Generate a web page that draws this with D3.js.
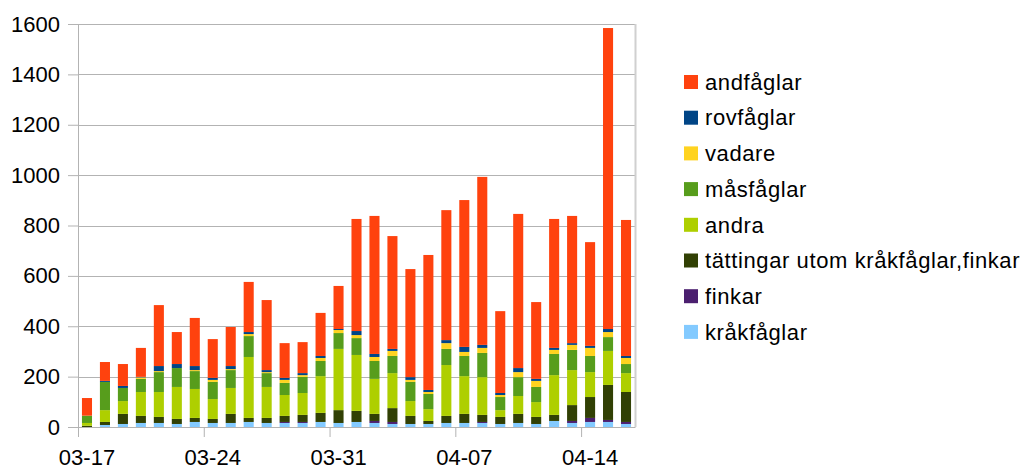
<!DOCTYPE html>
<html>
<head>
<meta charset="utf-8">
<script src="https://cdn.jsdelivr.net/npm/d3@7"></script>
<style>
  body { margin: 0; background: #fff; }
  text { font-family: "Liberation Sans", Arial, sans-serif; fill: #000; }
</style>
</head>
<body>
<svg id="chart" width="1025" height="469"></svg>
<script>
// days on the x axis
const days = ["03-17","03-18","03-19","03-20","03-21","03-22","03-23","03-24","03-25","03-26",
  "03-27","03-28","03-29","03-30","03-31","04-01","04-02","04-03","04-04","04-05","04-06",
  "04-07","04-08","04-09","04-10","04-11","04-12","04-13","04-14","04-15","04-16"];
const xTickDays = ["03-17","03-24","03-31","04-07","04-14"];
const yTicks = [0,200,400,600,800,1000,1200,1400,1600];

// series, bottom of the stack first
const krakfaglar = [0,8,12,16,16,12,20,16,16,20,16,16,16,20,16,20,16,12,12,12,16,16,16,12,16,12,24,16,20,20,12];
const finkar     = [0,0,0,0,0,0,0,0,0,0,0,4,4,0,0,0,8,8,0,0,0,0,4,0,0,0,0,8,16,8,8];
const tattingar  = [5,12,40,28,24,20,16,16,36,16,20,24,28,36,51,44,28,55,32,12,28,36,28,28,36,28,24,63,83,139,119];
const andra      = [11,47,51,95,99,127,115,79,103,242,123,83,87,146,243,222,139,139,59,47,202,150,150,27,71,59,158,139,99,135,75];
const masfaglar  = [29,112,52,52,79,75,71,68,71,83,55,48,64,60,63,67,71,68,76,60,64,80,96,52,75,60,84,80,64,55,36];
const vadare     = [0,0,0,6,4,0,4,8,4,8,4,12,7,12,12,12,16,20,8,8,23,16,20,8,20,24,16,20,32,20,24];
const rovfaglar  = [0,4,8,2,20,16,16,8,12,8,8,8,8,8,4,16,12,8,11,8,12,20,12,8,16,8,8,7,8,12,8];
const andfaglar  = [70,75,87,115,242,127,191,154,155,199,278,138,123,171,171,445,548,448,429,536,516,583,667,325,612,305,512,505,412,1195,540];

const seriesNames = ["kråkfåglar","finkar","tättingar utom kråkfåglar,finkar","andra","måsfåglar","vadare","rovfåglar","andfåglar"];
const seriesValues = [krakfaglar, finkar, tattingar, andra, masfaglar, vadare, rovfaglar, andfaglar];
const colors = ["#83caff","#4b1f6f","#314004","#aecf00","#579d1c","#ffd320","#004586","#ff420e"];

const margin = { top: 24, left: 78, right: 390, bottom: 42 };
const W = 1025, H = 469;
const plotW = W - margin.left - margin.right;   // 557
const plotH = H - margin.top - margin.bottom;   // 403

const svg = d3.select("#chart");
const g = svg.append("g").attr("transform", "translate(" + margin.left + "," + margin.top + ")");

// build row objects for the stack
const rows = days.map((d, i) => {
    let r = { day: d };
    seriesNames.forEach((s, j) => r[s] = seriesValues[j][i]);
    return r;
});
const stacked = d3.stack().keys(seriesNames)(rows);

const x = d3.scaleBand().domain(days).range([0, plotW]).paddingInner(0.44).paddingOuter(0.22);
const xIdx = d3.scaleLinear().domain([0, days.length]).range([0, plotW]);
const y = d3.scaleLinear().domain([0, 1600]).range([plotH, 0]);

// y axis ticks + labels
const yAxis = g.append("g")
    .call(d3.axisLeft(y).tickValues(yTicks).tickSize(10).tickPadding(8).tickFormat(d3.format("d")));
yAxis.select(".domain").remove();
yAxis.selectAll(".tick line").attr("stroke", "#b3b3b3");
yAxis.selectAll(".tick text").style("font-size", "22px");

// grid lines
g.append("g")
    .selectAll("line")
    .data(yTicks)
    .join("line")
    .attr("x1", 0).attr("x2", plotW)
    .attr("y1", d => Math.round(y(d)) + 0.5).attr("y2", d => Math.round(y(d)) + 0.5)
    .attr("stroke", "#b3b3b3");

// right border
g.append("line")
    .attr("x1", plotW + 0.5).attr("x2", plotW + 0.5)
    .attr("y1", 0).attr("y2", plotH)
    .attr("stroke", "#d0d0d0").attr("stroke-width", 2);

// bars
g.append("g")
    .selectAll("g")
    .data(stacked)
    .join("g")
    .attr("fill", (d, i) => colors[i])
    .selectAll("rect")
    .data(d => d)
    .join("rect")
    .attr("x", d => x(d.data.day))
    .attr("width", x.bandwidth())
    .attr("y", d => y(d[1]))
    .attr("height", d => Math.max(0, y(d[0]) - y(d[1])));

// x axis: ticks on category boundaries, labels at band centres
const tickIdx = xTickDays.map(d => days.indexOf(d));
const xAxis = g.append("g")
    .attr("transform", "translate(0," + plotH + ")")
    .call(d3.axisBottom(xIdx).tickValues(tickIdx).tickSize(10).tickSizeOuter(0).tickFormat(""));
xAxis.select(".domain").attr("stroke", "#b3b3b3");
xAxis.selectAll(".tick line").attr("stroke", "#b3b3b3");

g.append("g")
    .selectAll("text")
    .data(xTickDays)
    .join("text")
    .attr("x", d => x(d) + x.bandwidth() / 2)
    .attr("y", plotH + 38)
    .attr("text-anchor", "middle")
    .style("font-size", "22px")
    .text(d => d);

// y axis line
g.append("line")
    .attr("x1", 0.5).attr("x2", 0.5)
    .attr("y1", 0).attr("y2", plotH + 10)
    .attr("stroke", "#b3b3b3");

// legend, top entry = top of stack
const legend = svg.append("g").attr("transform", "translate(684,82)");
const legendOrder = d3.range(seriesNames.length).reverse();
legendOrder.forEach((si, k) => {
    let item = legend.append("g").attr("transform", "translate(0," + (k * 35.7) + ")");
    item.append("rect")
        .attr("x", 0).attr("y", -7)
        .attr("width", 14).attr("height", 14)
        .attr("fill", colors[si]);
    item.append("text")
        .attr("x", 21).attr("y", 0)
        .attr("dy", "0.35em")
        .style("font-size", "22px")
        .style("letter-spacing", "0.6px")
        .text(seriesNames[si]);
});
</script>
</body>
</html>
